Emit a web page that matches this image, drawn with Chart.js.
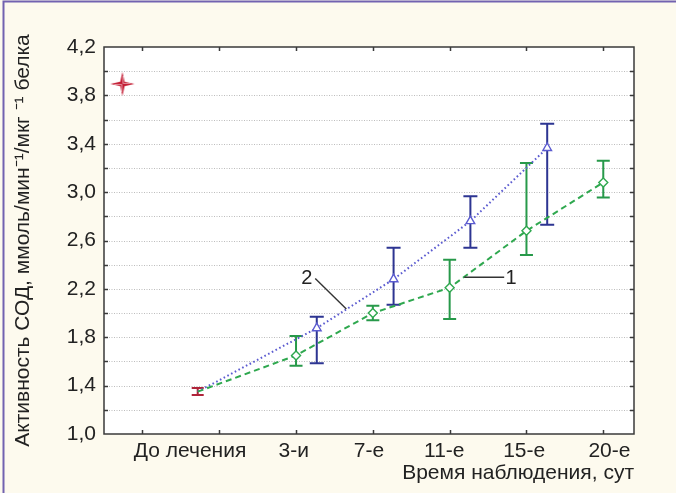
<!DOCTYPE html>
<html>
<head>
<meta charset="utf-8">
<script src="https://cdn.jsdelivr.net/npm/chart.js@4.4.1/dist/chart.umd.min.js"></script>
<style>
  html, body { margin: 0; padding: 0; background: #fdfaee; }
  #wrap { width: 676px; height: 493px; }
</style>
</head>
<body>
<div id="wrap"><canvas id="sodChart" width="676" height="493"></canvas></div>
<script>
// категории по оси X и где стоят их подписи
const timeLabels = ["До лечения", "3-и", "7-е", "11-е", "15-е", "20-е"];
const labelPos = [0.62, 1.97, 2.95, 3.93, 4.97, 6.08];

// исходный уровень (до лечения)
const baseX = 0.72;
const baseMean = 1.35;
const baseLow = 1.323;
const baseHigh = 1.38;

// группа 1
const group1X = [2, 3, 4, 5, 6];
const group1Mean = [1.65, 2.0, 2.21, 2.68, 3.08];
const group1Low = [1.565, 1.94, 1.95, 2.48, 2.955];
const group1High = [1.81, 2.06, 2.44, 3.24, 3.26];

// группа 2
const group2X = [2.27, 3.27, 4.27, 5.27];
const group2Mean = [1.875, 2.28, 2.76, 3.365];
const group2Low = [1.585, 2.068, 2.54, 2.73];
const group2High = [1.97, 2.54, 2.965, 3.565];

const yTickValues = [1.0, 1.4, 1.8, 2.2, 2.6, 3.0, 3.4, 3.8, 4.2];

// подписи кривых: текст, позиция текста, линия-выноска
const curveNotes = [
    { text: "2", x: 2.14, y: 2.29, from: [2.25, 2.285], to: [2.655, 2.034] },
    { text: "1", x: 4.80, y: 2.29, from: [4.19, 2.296], to: [4.71, 2.296] }
];

const starPos = { x: -0.26, y: 3.895 };

const green = "#2fa84f";
const greenBar = "#27994a";
const blue = "#5b5bd0";
const blueBar = "#2d3592";
const red = "#b0243a";
const fontFamily = "'Liberation Sans', Arial, sans-serif";

function makeStar() {
    const c = document.createElement("canvas");
    c.width = 26; c.height = 26;
    const g = c.getContext("2d");
    g.fillStyle = "#c41d34";
    g.beginPath();
    g.moveTo(13, 1); g.lineTo(15.2, 10.8); g.lineTo(25, 13); g.lineTo(15.2, 15.2);
    g.lineTo(13, 25); g.lineTo(10.8, 15.2); g.lineTo(1, 13); g.lineTo(10.8, 10.8);
    g.closePath();
    g.fill();
    g.strokeStyle = "rgba(255,255,255,0.7)";
    g.lineWidth = 0.8;
    g.beginPath();
    g.moveTo(13.6, 5); g.lineTo(13.6, 12.4); g.lineTo(21, 12.4);
    g.moveTo(12.4, 21); g.lineTo(12.4, 13.6); g.lineTo(5, 13.6);
    g.stroke();
    return c;
}

function drawErrorBar(ctx, xs, ys, x, low, high, color, half) {
    const px = xs.getPixelForValue(x);
    const top = ys.getPixelForValue(high);
    const bot = ys.getPixelForValue(low);
    ctx.strokeStyle = color;
    ctx.lineWidth = 2;
    ctx.beginPath();
    ctx.moveTo(px, top); ctx.lineTo(px, bot);
    ctx.moveTo(px - half, top); ctx.lineTo(px + half, top);
    ctx.moveTo(px - half, bot); ctx.lineTo(px + half, bot);
    ctx.stroke();
}

const decorPlugin = {
    id: "sodDecor",
    beforeDraw(chart) {
        const ctx = chart.ctx;
        const a = chart.chartArea;
        ctx.save();
        ctx.fillStyle = "#fdfaee";
        ctx.fillRect(0, 0, chart.width, chart.height);
        ctx.fillStyle = "#ffffff";
        ctx.fillRect(a.left, a.top, a.right - a.left, a.bottom - a.top);
        ctx.strokeStyle = "#7262b0";
        ctx.lineWidth = 2;
        ctx.beginPath();
        ctx.moveTo(3.5, chart.height);
        ctx.lineTo(3.5, 1.5);
        ctx.lineTo(chart.width, 1.5);
        ctx.stroke();
        ctx.restore();
    },
    beforeDatasetsDraw(chart) {
        const ctx = chart.ctx;
        const a = chart.chartArea;
        const xs = chart.scales.x;
        const ys = chart.scales.y;
        ctx.save();
        // пунктирная сетка
        ctx.strokeStyle = "#bdbdbd";
        ctx.lineWidth = 1;
        ctx.setLineDash([1, 1.5]);
        for (let v = ys.min + 0.2; v < ys.max - 0.01; v += 0.2) {
            const py = Math.round(ys.getPixelForValue(v)) + 0.5;
            ctx.beginPath();
            ctx.moveTo(a.left, py);
            ctx.lineTo(a.right, py);
            ctx.stroke();
        }
        ctx.setLineDash([]);
        // планки погрешностей
        drawErrorBar(ctx, xs, ys, baseX, baseLow, baseHigh, red, 6);
        group1X.forEach((x, i) => drawErrorBar(ctx, xs, ys, x, group1Low[i], group1High[i], greenBar, 6.5));
        group2X.forEach((x, i) => drawErrorBar(ctx, xs, ys, x, group2Low[i], group2High[i], blueBar, 7));
        ctx.restore();
    },
    afterDatasetsDraw(chart) {
        const ctx = chart.ctx;
        const a = chart.chartArea;
        const xs = chart.scales.x;
        const ys = chart.scales.y;
        ctx.save();
        // рамка и внутренние засечки
        ctx.strokeStyle = "#3a3a3a";
        ctx.lineWidth = 1.5;
        ctx.strokeRect(a.left, a.top, a.right - a.left, a.bottom - a.top);
        ctx.beginPath();
        for (let v = ys.min + 0.2; v < ys.max - 0.01; v += 0.2) {
            const py = Math.round(ys.getPixelForValue(v)) + 0.5;
            ctx.moveTo(a.left, py); ctx.lineTo(a.left + 4, py);
            ctx.moveTo(a.right, py); ctx.lineTo(a.right - 4, py);
        }
        for (let v = 0; v <= 6; v++) {
            const px = Math.round(xs.getPixelForValue(v)) + 0.5;
            ctx.moveTo(px, a.bottom); ctx.lineTo(px, a.bottom - 4);
            ctx.moveTo(px, a.top); ctx.lineTo(px, a.top + 4);
        }
        ctx.stroke();
        // подписи кривых
        ctx.strokeStyle = "#333";
        ctx.lineWidth = 1.4;
        ctx.fillStyle = "#222";
        ctx.font = "20px " + fontFamily;
        ctx.textAlign = "center";
        ctx.textBaseline = "middle";
        curveNotes.forEach(n => {
            ctx.beginPath();
            ctx.moveTo(xs.getPixelForValue(n.from[0]), ys.getPixelForValue(n.from[1]));
            ctx.lineTo(xs.getPixelForValue(n.to[0]), ys.getPixelForValue(n.to[1]));
            ctx.stroke();
            ctx.fillText(n.text, xs.getPixelForValue(n.x), ys.getPixelForValue(n.y));
        });
        ctx.restore();
    }
};

Chart.defaults.font.family = fontFamily;
Chart.defaults.color = "#222";

const ctx = document.getElementById("sodChart").getContext("2d");
new Chart(ctx, {
    type: "scatter",
    data: {
        datasets: [
            {
                label: "1",
                data: [baseX].concat(group1X).map((x, i) => ({ x: x, y: [baseMean].concat(group1Mean)[i] })),
                showLine: true,
                borderColor: green,
                borderWidth: 2,
                borderDash: [6, 4],
                pointStyle: "rectRot",
                pointRadius: [0, 4.5, 4.5, 4.5, 4.5, 4.5],
                pointBackgroundColor: "#ffffff",
                pointBorderColor: green,
                pointBorderWidth: 1.4,
                tension: 0
            },
            {
                label: "2",
                data: [baseX].concat(group2X).map((x, i) => ({ x: x, y: [baseMean].concat(group2Mean)[i] })),
                showLine: true,
                borderColor: blue,
                borderWidth: 2,
                borderDash: [1.6, 2.6],
                pointStyle: "triangle",
                pointRadius: [0, 5, 5, 5, 5],
                pointBackgroundColor: "#ffffff",
                pointBorderColor: blue,
                pointBorderWidth: 1.4,
                tension: 0
            },
            {
                label: "star",
                data: [starPos],
                pointStyle: makeStar(),
                pointRadius: 13
            }
        ]
    },
    options: {
        responsive: false,
        animation: false,
        layout: { padding: { top: 47, right: 42, left: 0, bottom: 0 } },
        plugins: {
            legend: { display: false },
            tooltip: { enabled: false }
        },
        scales: {
            x: {
                type: "linear",
                min: -0.5,
                max: 6.4,
                grid: { display: false, drawTicks: false },
                border: { display: false },
                afterBuildTicks: scale => { scale.ticks = labelPos.map(v => ({ value: v })); },
                afterFit: scale => { scale.height = 59; },
                ticks: {
                    autoSkip: false,
                    maxRotation: 0,
                    padding: 5,
                    font: { size: 21 },
                    color: "#222",
                    callback: (v, i) => timeLabels[i]
                },
                title: {
                    display: true,
                    text: "Время наблюдения, сут",
                    align: "end",
                    font: { size: 21 },
                    color: "#222",
                    padding: { top: 0, bottom: 7 }
                }
            },
            y: {
                min: 1.0,
                max: 4.2,
                grid: { display: false, drawTicks: false },
                border: { display: false },
                afterBuildTicks: scale => { scale.ticks = yTickValues.map(v => ({ value: v })); },
                afterFit: scale => { scale.width = 104; },
                ticks: {
                    padding: 8,
                    font: { size: 21 },
                    color: "#222",
                    callback: v => v.toFixed(1).replace(".", ",")
                },
                title: {
                    display: true,
                    text: "Активность СОД, ммоль/мин⁻¹/мкг ⁻¹ белка",
                    font: { size: 21 },
                    color: "#222",
                    padding: { top: 11, bottom: 0 }
                }
            }
        }
    },
    plugins: [decorPlugin]
});
</script>
</body>
</html>
